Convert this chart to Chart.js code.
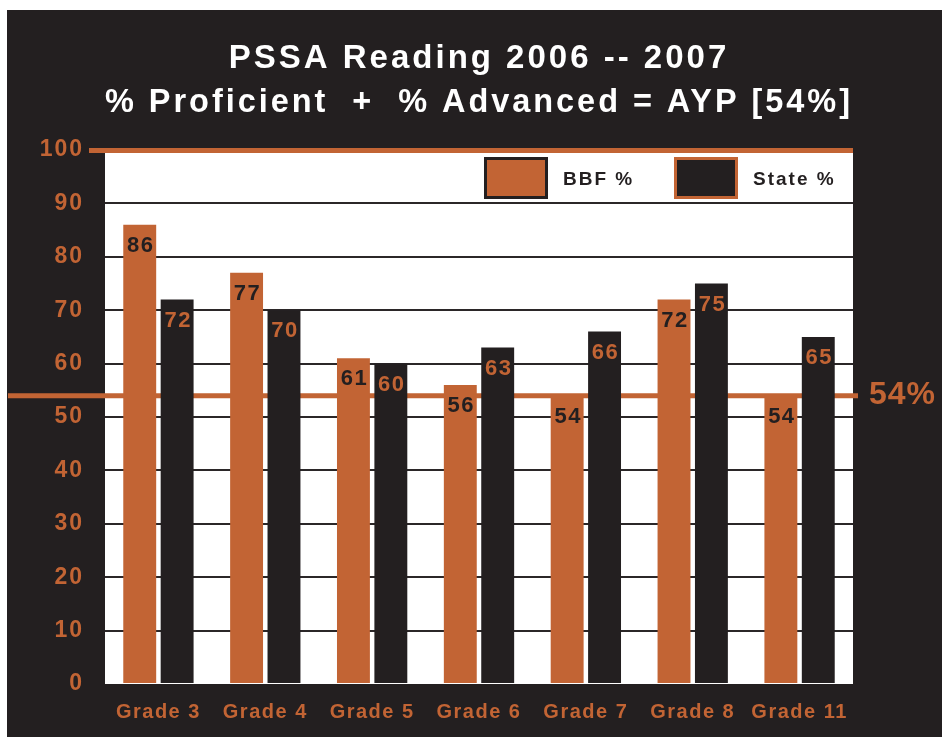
<!DOCTYPE html>
<html><head><meta charset="utf-8">
<script src="https://cdn.jsdelivr.net/npm/chart.js@4.4.0/dist/chart.umd.min.js"></script>
<style>html,body{margin:0;padding:0;background:#fff;}canvas{display:block;}</style>
</head><body>
<canvas id="c" width="942" height="737"></canvas>
<script>
const categories = ['Grade 3','Grade 4','Grade 5','Grade 6','Grade 7','Grade 8','Grade 11'];
const bbfValues = [86, 77, 61, 56, 54, 72, 54];
const stateValues = [72, 70, 60, 63, 66, 75, 65];
const seriesNames = ['BBF %', 'State %'];
const titleLines = ['PSSA Reading 2006 -- 2007', '% Proficient  +  % Advanced = AYP [54%]'];
const aypTarget = 54;
const aypLabel = '54%';

const ORANGE = '#c26434';
const DARK = '#231f20';
const FONT = '"Liberation Sans", Arial, Helvetica, sans-serif';
Chart.defaults.font.family = FONT;

const labelSpacing = {x: '1.5px', y: '2px'};

const spacingPlugin = {
  id: 'spacing',
  afterLayout(chart) {
    Object.keys(chart.scales).forEach(id => {
      const sc = chart.scales[id];
      if (sc._spacingWrapped) return;
      const orig = sc.drawLabels;
      sc.drawLabels = function (area) {
        const c = this.ctx;
        c.save();
        c.letterSpacing = labelSpacing[id] || '0px';
        orig.call(this, area);
        c.restore();
      };
      sc._spacingWrapped = true;
    });
  }
};

const bgPlugin = {
  id: 'bg',
  beforeDraw(chart) {
    const {ctx, chartArea: a} = chart;
    ctx.save();
    ctx.fillStyle = '#ffffff';
    ctx.fillRect(0, 0, chart.width, chart.height);
    ctx.fillStyle = DARK;
    ctx.fillRect(7, 10, chart.width - 7, chart.height - 10);
    ctx.fillStyle = '#ffffff';
    ctx.fillRect(a.left, a.top, a.right - a.left, a.bottom - a.top);
    ctx.restore();
    ctx.letterSpacing = '3px';
  }
};

const aypPlugin = {
  id: 'ayp',
  beforeDatasetsDraw(chart) {
    const {ctx, chartArea: a} = chart;
    const y = chart.scales.y.getPixelForValue(aypTarget);
    ctx.save();
    ctx.strokeStyle = ORANGE;
    ctx.lineWidth = 5;
    ctx.beginPath();
    ctx.moveTo(8, y);
    ctx.lineTo(a.right + 5, y);
    ctx.stroke();
    ctx.fillStyle = ORANGE;
    ctx.font = 'bold 32px ' + FONT;
    ctx.letterSpacing = '1px';
    ctx.textAlign = 'left';
    ctx.textBaseline = 'middle';
    ctx.fillText(aypLabel, a.right + 16, y);
    ctx.restore();
  }
};

const valuePlugin = {
  id: 'values',
  afterDatasetsDraw(chart) {
    const ctx = chart.ctx;
    ctx.save();
    ctx.font = 'bold 22px ' + FONT;
    ctx.letterSpacing = '1.5px';
    ctx.textAlign = 'center';
    ctx.textBaseline = 'middle';
    chart.data.datasets.forEach((ds, i) => {
      const meta = chart.getDatasetMeta(i);
      ctx.fillStyle = i === 0 ? DARK : ORANGE;
      meta.data.forEach((el, j) => {
        ctx.fillText(String(ds.data[j]), el.x + 1, el.y + 21);
      });
    });
    ctx.restore();
  }
};

const legendPlugin = {
  id: 'customLegend',
  afterDraw(chart) {
    const {ctx, chartArea: a} = chart;
    ctx.save();
    let x = a.right - 369;
    const top = a.top + 7;
    chart.data.datasets.forEach((ds, i) => {
      const fill = ds.backgroundColor;
      const border = i === 0 ? DARK : ORANGE;
      ctx.fillStyle = border;
      ctx.fillRect(x, top, 64, 42);
      ctx.fillStyle = fill;
      ctx.fillRect(x + 3, top + 3, 58, 36);
      ctx.fillStyle = DARK;
      ctx.font = 'bold 19px ' + FONT;
      ctx.letterSpacing = '2px';
      ctx.textAlign = 'left';
      ctx.textBaseline = 'middle';
      ctx.fillText(ds.label, x + 79, top + 23);
      x += 190;
    });
    ctx.restore();
  }
};

new Chart(document.getElementById('c'), {
  type: 'bar',
  data: {
    labels: categories,
    datasets: [
      {label: seriesNames[0], data: bbfValues, backgroundColor: ORANGE, borderWidth: 0,
       categoryPercentage: 0.70, barPercentage: 0.88},
      {label: seriesNames[1], data: stateValues, backgroundColor: DARK, borderWidth: 0,
       categoryPercentage: 0.70, barPercentage: 0.88}
    ]
  },
  options: {
    responsive: false,
    animation: false,
    layout: {padding: {left: 0, right: 89, top: 0, bottom: 0}},
    plugins: {
      legend: {display: false},
      tooltip: {enabled: false},
      title: {
        display: true,
        fullSize: false,
        text: titleLines,
        color: '#ffffff',
        font: {size: 33, weight: 'bold', lineHeight: 44 / 33},
        padding: {top: 37, bottom: 25}
      }
    },
    scales: {
      x: {
        grid: {display: false, drawTicks: false},
        border: {display: false},
        ticks: {color: ORANGE, font: {size: 20, weight: 'bold', lineHeight: 1.2}, padding: 16, maxRotation: 0, autoSkip: false},
        afterFit(s) { s.height = 53; }
      },
      y: {
        min: 0, max: 100,
        border: {display: false},
        ticks: {stepSize: 10, color: ORANGE, font: {size: 23, weight: 'bold'}, padding: 5},
        grid: {
          color: c => c.tick.value === 100 ? ORANGE : (c.tick.value === 0 ? 'rgba(0,0,0,0)' : '#2b2728'),
          lineWidth: c => c.tick.value === 100 ? 5 : 2,
          drawTicks: true,
          tickLength: 16,
          tickColor: c => c.tick.value === 100 ? ORANGE : 'rgba(0,0,0,0)',
          tickWidth: 5
        },
        afterFit(s) { s.width = 105; }
      }
    }
  },
  plugins: [spacingPlugin, bgPlugin, aypPlugin, valuePlugin, legendPlugin]
});
</script>
</body></html>
